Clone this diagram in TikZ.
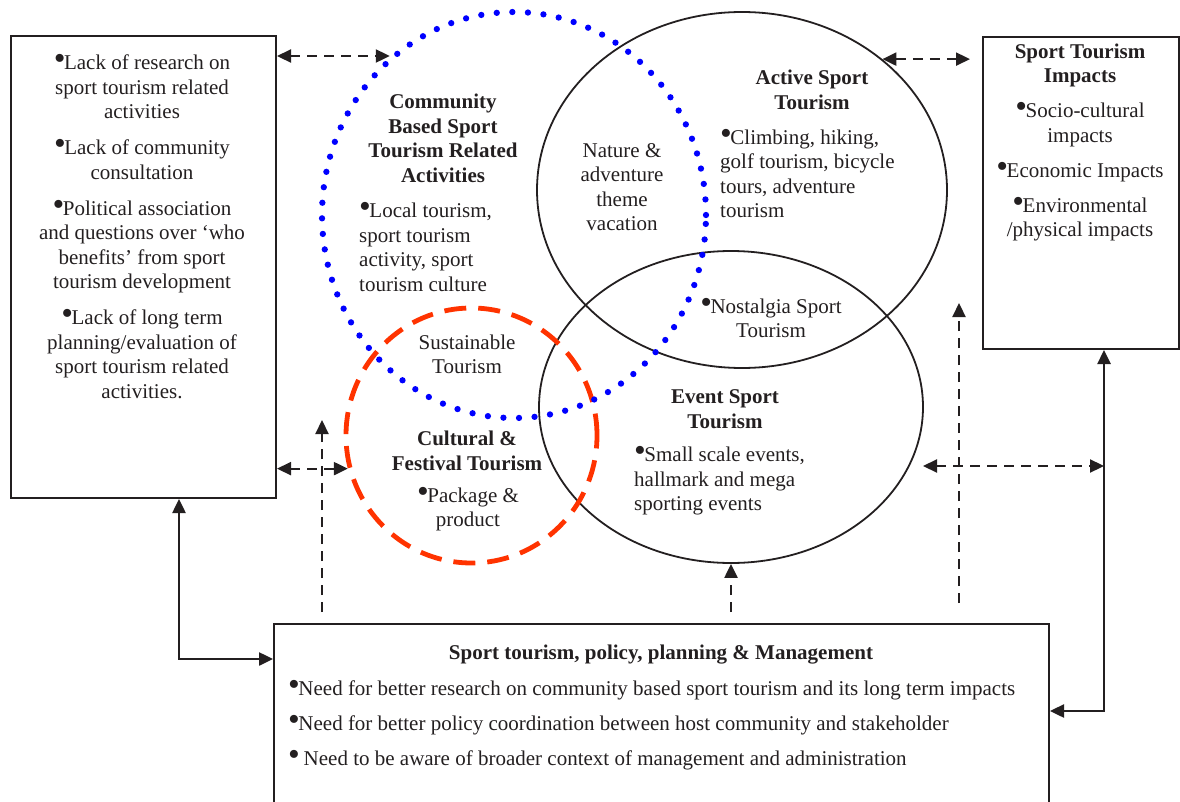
\documentclass[tikz,border=0pt]{standalone}
\usepackage{fontspec}
\setmainfont{Liberation Serif}
\usetikzlibrary{arrows.meta,shapes.geometric}

\definecolor{ink}{RGB}{35,31,32}
\definecolor{dotblue}{RGB}{0,0,255}
\definecolor{dashred}{RGB}{255,51,0}
\newcommand{\bul}{\scalebox{1.6}{\textbullet}\kern-1.5pt}

\tikzset{
	panel/.style={draw=ink, line width=2pt, inner sep=0pt, anchor=north west},
	txt/.style={text=ink, font=\fontsize{21}{24.5}\selectfont, inner sep=0pt, align=center},
	ring/.style={ellipse, draw=ink, line width=1.8pt, inner sep=0pt},
	dotring/.style={ellipse, draw=dotblue, line width=6.3pt, line cap=round, dash pattern=on 0pt off 15.6pt, inner sep=0pt},
	dashring/.style={ellipse, draw=dashred, line width=4.8pt, dash pattern=on 22pt off 12pt, inner sep=0pt},
	tip/.tip={Triangle[length=14pt,width=13pt]},
	link/.style={ink, line width=2.2pt, dash pattern=on 10pt off 7pt, tip-tip},
	uplink/.style={ink, line width=2.2pt, dash pattern=on 10pt off 7pt, -tip},
	feed/.style={ink, line width=2.5pt, tip-tip}
}

\begin{document}
		\begin{tikzpicture}[x=1pt, y=-1pt]
			\useasboundingbox (0,0) rectangle (1180,802);
			\clip (0,0) rectangle (1180,802);

			\node[panel, minimum width=265pt, minimum height=462pt] (barriers) at (10,35) {};
			\node[panel, minimum width=196pt, minimum height=312pt] (impacts) at (982,36) {};
			\node[panel, minimum width=775pt, minimum height=240pt] (policy) at (273,623) {};

			\node[ring, minimum width=410pt, minimum height=356pt] (active) at (742,190) {};
			\node[ring, minimum width=384pt, minimum height=312pt] (event) at (731,407) {};
			\node[dashring, minimum width=251pt, minimum height=255pt] (cultural) at (471.5,435.5) {};
			\node[dotring, minimum width=384pt, minimum height=406pt] (community) at (514,215) {};

			\node[txt] (barriers-text) at (142,226.5) {\bul Lack of research on\\ sport tourism related\\ activities\\[11.5pt]
				\bul Lack of community\\ consultation\\[11.5pt]
				\bul Political association\\ and questions over `who\\ benefits' from sport\\ tourism development\\[11.5pt]
				\bul Lack of long term\\ planning/evaluation of\\ sport tourism related\\ activities.};
			\node[txt] (impacts-text) at (1080,142.5) {\textbf{Sport Tourism}\\ \textbf{Impacts}\\[10.5pt]
				\bul Socio-cultural\\ impacts\\[10.5pt]
				\bul Economic Impacts\\[10.5pt]
				\bul Environmental\\ /physical impacts};

			\node[txt, font=\fontsize{21}{24.5}\selectfont\bfseries] (community-title) at (443,138.5) {Community\\ Based Sport\\ Tourism Related\\ Activities};
			\node[txt, align=left, anchor=west] (community-text) at (359,247) {\bul Local tourism,\\ sport tourism\\ activity, sport\\ tourism culture};
			\node[txt] (nature) at (622,187) {Nature \&\\ adventure\\ theme\\ vacation};
			\node[txt, font=\fontsize{21}{24.5}\selectfont\bfseries] (active-title) at (812,90) {Active Sport\\ Tourism};
			\node[txt, align=left, anchor=west] (active-text) at (720,173.5) {\bul Climbing, hiking,\\ golf tourism, bicycle\\ tours, adventure\\ tourism};
			\node[txt] (nostalgia) at (771,318) {\bul Nostalgia Sport\\ Tourism};
			\node[txt] (sustainable) at (467,354.5) {Sustainable\\ Tourism};
			\node[txt, font=\fontsize{21}{24.5}\selectfont\bfseries] (cultural-title) at (467,451) {Cultural \&\\ Festival Tourism};
			\node[txt] (cultural-text) at (468,509) {\bul Package \&\\ product};
			\node[txt, font=\fontsize{21}{24.5}\selectfont\bfseries] (event-title) at (725,409) {Event Sport\\ Tourism};
			\node[txt, align=left, anchor=west] (event-text) at (634,481) {\bul Small scale events,\\ hallmark and mega\\ sporting events};
			\node[txt, font=\fontsize{21}{24.5}\selectfont\bfseries] (policy-title) at (661,655) {Sport tourism, policy, planning \& Management};
			\node[txt, align=left, anchor=west] (policy-text) at (288,725) {\bul Need for better research on community based sport tourism and its long term impacts\\[10.5pt]
				\bul Need for better policy coordination between host community and stakeholder\\[10.5pt]
				\bul\ Need to be aware of broader context of management and administration};

			\coordinate (lturn) at (179,659);
			\coordinate (rturn) at (1104,711);
			\coordinate (lfoot) at (322,612);
			\coordinate (lup) at (322,420);
			\coordinate (mfoot) at (731,612);
			\coordinate (rfoot) at (959,603);
			\coordinate (rup) at (959,303);
			\coordinate (eventtip) at (923,466);

			\draw[link] (barriers.east |- community.128) -- (community.128);
			\draw[link] (active.43) -- ([xshift=-12pt]impacts.west |- active.43);
			\draw[link] (barriers.east |- cultural.195) -- (cultural.195);
			\draw[link] (eventtip) -- (eventtip -| rturn);
			\draw[uplink] (lfoot) -- (lup);
			\draw[uplink] (mfoot) -- (event.south);
			\draw[uplink] (rfoot) -- (rup);
			\draw[feed] (barriers.south -| lturn) -- (lturn) -- (policy.west |- lturn);
			\draw[feed] (impacts.south -| rturn) -- (rturn) -- (policy.east |- rturn);
		\end{tikzpicture}
\end{document}
